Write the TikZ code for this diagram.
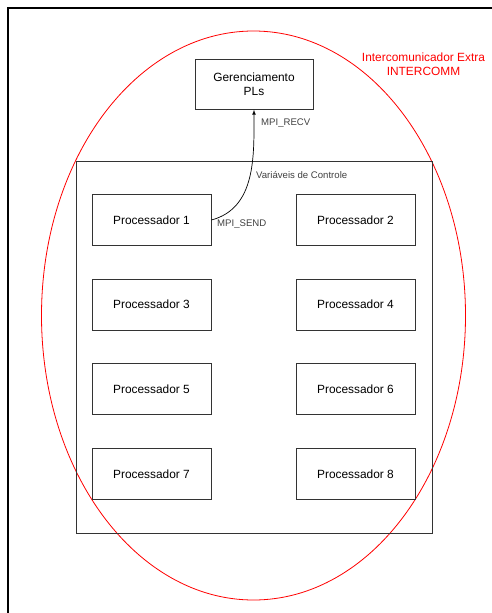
\documentclass[tikz,border=0pt]{standalone}
\usepackage{fontspec}
\setmainfont{Liberation Sans}
\usetikzlibrary{positioning}
\begin{document}
\begin{tikzpicture}[x=1pt,y=-1pt,node distance=32.8pt and 84.1pt,
	box/.style={draw=black!80,line width=0.9pt,minimum width=119pt,minimum height=51pt,inner sep=0pt,font=\fontsize{11.9}{14}\selectfont},
	lbl/.style={text=black!75,inner sep=1pt,font=\fontsize{9.6}{11}\selectfont}]
	\useasboundingbox (0,0) rectangle (492,613);
	\draw[line width=2pt] (8,613) -- (8,8) -- (492,8);
	\draw[red,line width=0.8pt] (253.5,315.5) ellipse [x radius=212,y radius=284.5];
	\node[draw=black!80,line width=1pt,minimum width=356pt,minimum height=372pt] (ctrl) at (254,347) {};
	\node[box,minimum width=118pt,minimum height=50pt,align=center] (gp) at (254,84.3) {Gerenciamento\\PLs};
	\node[text=red,align=center,font=\fontsize{11.9}{14}\selectfont] (ic) at (423.5,64) {Intercomunicador Extra\\INTERCOMM};
	\node[box] (p1) at (151.5,220) {Processador 1};
	\node[box,right=of p1] (p2) {Processador 2};
	\node[box,below=of p1] (p3) {Processador 3};
	\node[box,right=of p3] (p4) {Processador 4};
	\node[box,below=of p3] (p5) {Processador 5};
	\node[box,right=of p5] (p6) {Processador 6};
	\node[box,below=of p5] (p7) {Processador 7};
	\node[box,right=of p7] (p8) {Processador 8};
	\node[lbl,anchor=west] (vars) at (255,175) {Variáveis de Controle};
	\node[lbl,anchor=west] (recv) at (260,123) {MPI\_RECV};
	\node[lbl,anchor=west] (send) at (216,224) {MPI\_SEND};
	\path[-latex,line width=0.7pt] (p1.east) edge[out=15,in=-90] (gp.south);
\end{tikzpicture}
\end{document}
